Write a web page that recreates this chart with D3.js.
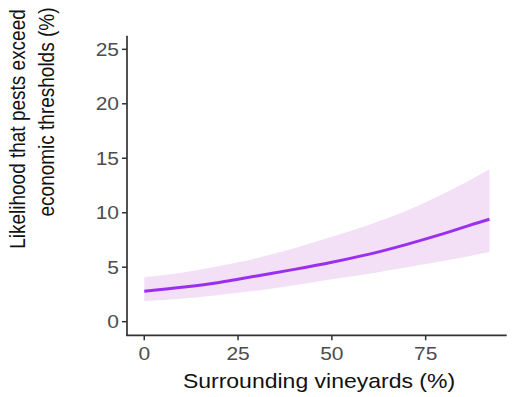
<!DOCTYPE html>
<html>
<head>
<meta charset="utf-8">
<script src="https://cdn.jsdelivr.net/npm/d3@7"></script>
<style>
  html, body { margin: 0; padding: 0; background: #fff; }
  svg { display: block; }
  text { font-family: "Liberation Sans", Arial, Helvetica, sans-serif; }
</style>
</head>
<body>
<svg id="chart" width="512" height="397"></svg>
<script>
// ---- data ----
const xValues   = [0, 10, 20, 25, 30, 40, 50, 60, 70, 80, 90, 92];
const fitValues = [2.8, 3.15, 3.6, 3.9, 4.2, 4.8, 5.45, 6.2, 7.1, 8.1, 9.2, 9.4];
const upperValues = [4.1, 4.5, 5.1, 5.45, 5.85, 6.75, 7.8, 8.9, 10.2, 11.8, 13.6, 14.0];
const lowerValues = [1.9, 2.1, 2.45, 2.65, 2.85, 3.35, 3.9, 4.4, 5.0, 5.6, 6.25, 6.4];
const xTicks = [0, 25, 50, 75];
const yTicks = [0, 5, 10, 15, 20, 25];
const xTitle = "Surrounding vineyards (%)";
const yTitleLines = ["Likelihood that pests exceed", "economic thresholds (%)"];

const data = xValues.map((x, i) => ({ x, fit: fitValues[i], lo: lowerValues[i], hi: upperValues[i] }));

const svg = d3.select("#chart");
const pLeft = 127, pRight = 506.7, pTop = 35.7, pBottom = 335.3;
const stretch = 1.2;

const x = d3.scaleLinear().domain([-4.6, 96.6]).range([pLeft, pRight]);
const y = d3.scaleLinear().domain([-1.25, 26.25]).range([pBottom, pTop]);

// ribbon
svg.append("path")
  .datum(data)
  .attr("fill", "#f3e0f6")
  .attr("d", d3.area().x(d => x(d.x)).y0(d => y(d.lo)).y1(d => y(d.hi)).curve(d3.curveMonotoneX));

// fit line
svg.append("path")
  .datum(data)
  .attr("fill", "none")
  .attr("stroke", "#9b2ff0")
  .attr("stroke-width", 3)
  .attr("d", d3.line().x(d => x(d.x)).y(d => y(d.fit)).curve(d3.curveMonotoneX));

// axes lines
const axisColor = "#333333";
svg.append("line").attr("x1", pLeft).attr("x2", pLeft).attr("y1", pTop).attr("y2", pBottom + 0.8)
  .attr("stroke", axisColor).attr("stroke-width", 1.7);
svg.append("line").attr("x1", pLeft - 0.8).attr("x2", pRight).attr("y1", pBottom).attr("y2", pBottom)
  .attr("stroke", axisColor).attr("stroke-width", 1.7);

// y ticks
yTicks.forEach(t => {
  svg.append("line").attr("x1", pLeft - 5).attr("x2", pLeft).attr("y1", y(t)).attr("y2", y(t))
    .attr("stroke", axisColor).attr("stroke-width", 1.5);
  svg.append("text")
    .attr("transform", `translate(119,${y(t)}) scale(${stretch},1)`)
    .attr("text-anchor", "end").attr("dy", "0.36em")
    .attr("font-size", 17.5).attr("fill", "#4d4d4d")
    .text(d3.format("d")(t));
});

// x ticks
xTicks.forEach(t => {
  svg.append("line").attr("x1", x(t)).attr("x2", x(t)).attr("y1", pBottom).attr("y2", pBottom + 5)
    .attr("stroke", axisColor).attr("stroke-width", 1.5);
  svg.append("text")
    .attr("transform", `translate(${x(t)},360) scale(${stretch},1)`)
    .attr("text-anchor", "middle")
    .attr("font-size", 17.5).attr("fill", "#4d4d4d")
    .text(d3.format("d")(t));
});

// x title
svg.append("text")
  .attr("transform", `translate(${(183 + 455) / 2},388) scale(1.15,1)`)
  .attr("text-anchor", "middle")
  .attr("font-size", 20).attr("fill", "#111")
  .text(xTitle);

// y title (two lines)
const yTitlePos = [{ bx: 25, cy: 129 }, { bx: 54, cy: 112 }];
yTitleLines.forEach((s, i) => {
  svg.append("text")
    .attr("transform", `translate(${yTitlePos[i].bx},${yTitlePos[i].cy}) scale(${stretch},1) rotate(-90)`)
    .attr("text-anchor", "middle")
    .attr("font-size", 19).attr("fill", "#111")
    .text(s);
});
</script>
</body>
</html>
